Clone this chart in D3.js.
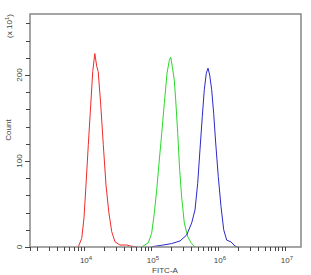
<!DOCTYPE html>
<html>
<head>
<meta charset="utf-8">
<script src="https://cdn.jsdelivr.net/npm/d3@7"></script>
<style>
  body { margin: 0; background: #fff; }
  text { font-family: "Liberation Sans", Arial, sans-serif; fill: #444; }
</style>
</head>
<body>
<div id="chart"></div>
<script>
// histogram outlines, FITC-A intensity vs count (x10)
var redX = [8200, 9250, 10000, 10700, 11600, 12600, 13500, 14500, 15500, 16300, 17800, 19400, 21300, 23400, 25900, 29000, 34400, 43400, 48600, 61200];
var redY = [0, 10, 34, 72, 119, 165, 204, 225, 210, 204, 165, 119, 72, 41, 18, 6, 2.3, 2.3, 1.2, 0];

var greenX = [72600, 91200, 102300, 111900, 121600, 131600, 144500, 158100, 173400, 187600, 196800, 208000, 222800, 233900, 250600, 268100, 287100, 314100, 353200, 395500, 453600];
var greenY = [0, 5, 16, 39, 66, 97, 132, 167, 202, 217, 221, 210, 194, 171, 132, 89, 58, 28, 12, 5, 0];

var blueX = [102300, 144500, 203700, 271000, 341400, 404900, 453600, 497700, 538500, 583400, 624900, 668800, 709600, 751600, 805100, 862800, 924200, 1010000, 1109000, 1217000, 1349000, 1563000, 1794000, 2011000];
var blueY = [0.3, 2, 4, 7, 14, 28, 43, 74, 113, 152, 183, 202, 208, 200, 183, 155, 121, 82, 47, 20, 8, 6, 1, 0];

var series = [
  { x: redX, y: redY, color: "#ee2a2a" },
  { x: greenX, y: greenY, color: "#2ad82a" },
  { x: blueX, y: blueY, color: "#2a2ac8" }
];

var yMajor = [0, 100, 200];
var xMajor = [4, 5, 6, 7];   // exponents

var w = 311, h = 275;
// plot box (note: "top" is taken by window.top)
var pLeft = 30, pRight = 301, pTop = 14, pBottom = 247;

var svg = d3.select("#chart").append("svg")
  .attr("width", w)
  .attr("height", h);

var x = d3.scaleLog().domain([1563, 17340000]).range([pLeft, pRight]);
var y = d3.scaleLinear().domain([0, 271]).range([pBottom, pTop]);

// curves
var line = d3.line()
  .x(function (d) { return x(d[0]); })
  .y(function (d) { return y(d[1]); })
  .curve(d3.curveLinear);

series.forEach(function (s) {
  var pts = s.x.map(function (v, i) { return [v, s.y[i]]; });
  svg.append("path")
    .attr("d", line(pts))
    .attr("fill", "none")
    .attr("stroke", s.color)
    .attr("stroke-width", 1);
});

// frame
svg.append("path")
  .attr("d", "M" + pLeft + "," + pBottom + "V" + pTop + "H" + pRight + "V" + pBottom + "H" + pLeft)
  .attr("fill", "none")
  .attr("stroke", "#888")
  .attr("stroke-width", 1.5);

// y ticks
var yMinor = d3.range(0, 271, 20);
svg.append("g").selectAll("line").data(yMinor).enter().append("line")
  .attr("x1", pLeft).attr("x2", pLeft - 4)
  .attr("y1", function (d) { return Math.round(y(d)) + 0.5; })
  .attr("y2", function (d) { return Math.round(y(d)) + 0.5; })
  .attr("stroke", "#444");

svg.append("g").selectAll("line").data(yMajor).enter().append("line")
  .attr("x1", pLeft).attr("x2", pLeft - 5)
  .attr("y1", function (d) { return Math.round(y(d)) + 0.5; })
  .attr("y2", function (d) { return Math.round(y(d)) + 0.5; })
  .attr("stroke", "#444");

svg.append("g").selectAll("text").data(yMajor).enter().append("text")
  .attr("transform", function (d) { return "translate(22," + y(d) + ") rotate(-90)"; })
  .attr("text-anchor", "middle")
  .style("font-size", "8px")
  .text(function (d) { return d; });

// x ticks
var xMinor = [];
for (var e = 3; e <= 7; e++) {
  for (var k = 1; k <= 9; k++) {
    var v = k * Math.pow(10, e);
    if (v >= x.domain()[0] && v <= x.domain()[1]) xMinor.push(v);
  }
}
svg.append("g").selectAll("line").data(xMinor).enter().append("line")
  .attr("x1", function (d) { return Math.round(x(d)) + 0.5; })
  .attr("x2", function (d) { return Math.round(x(d)) + 0.5; })
  .attr("y1", pBottom).attr("y2", pBottom + 4)
  .attr("stroke", "#444");

svg.append("line")
  .attr("x1", pLeft + 0.5).attr("x2", pLeft + 0.5)
  .attr("y1", pBottom).attr("y2", pBottom + 4)
  .attr("stroke", "#444");

var xl = svg.append("g").selectAll("text").data(xMajor).enter().append("text")
  .attr("x", function (d) { return x(Math.pow(10, d)) + 2; })
  .attr("y", 263)
  .attr("text-anchor", "middle")
  .style("font-size", "8px");
xl.append("tspan").text("10");
xl.append("tspan").attr("dy", -3).style("font-size", "6px").text(function (d) { return d; });

// axis titles
svg.append("text")
  .attr("x", 165)
  .attr("y", 273)
  .attr("text-anchor", "middle")
  .style("font-size", "8px")
  .text("FITC-A");

svg.append("text")
  .attr("transform", "translate(11,130) rotate(-90)")
  .attr("text-anchor", "middle")
  .style("font-size", "8px")
  .text("Count");

var mult = svg.append("text")
  .attr("transform", "translate(12,26) rotate(-90)")
  .attr("text-anchor", "middle")
  .style("font-size", "8px");
mult.append("tspan").text("(x 10");
mult.append("tspan").attr("dy", -3).style("font-size", "6px").text("1");
mult.append("tspan").attr("dy", 3).text(")");
</script>
</body>
</html>
